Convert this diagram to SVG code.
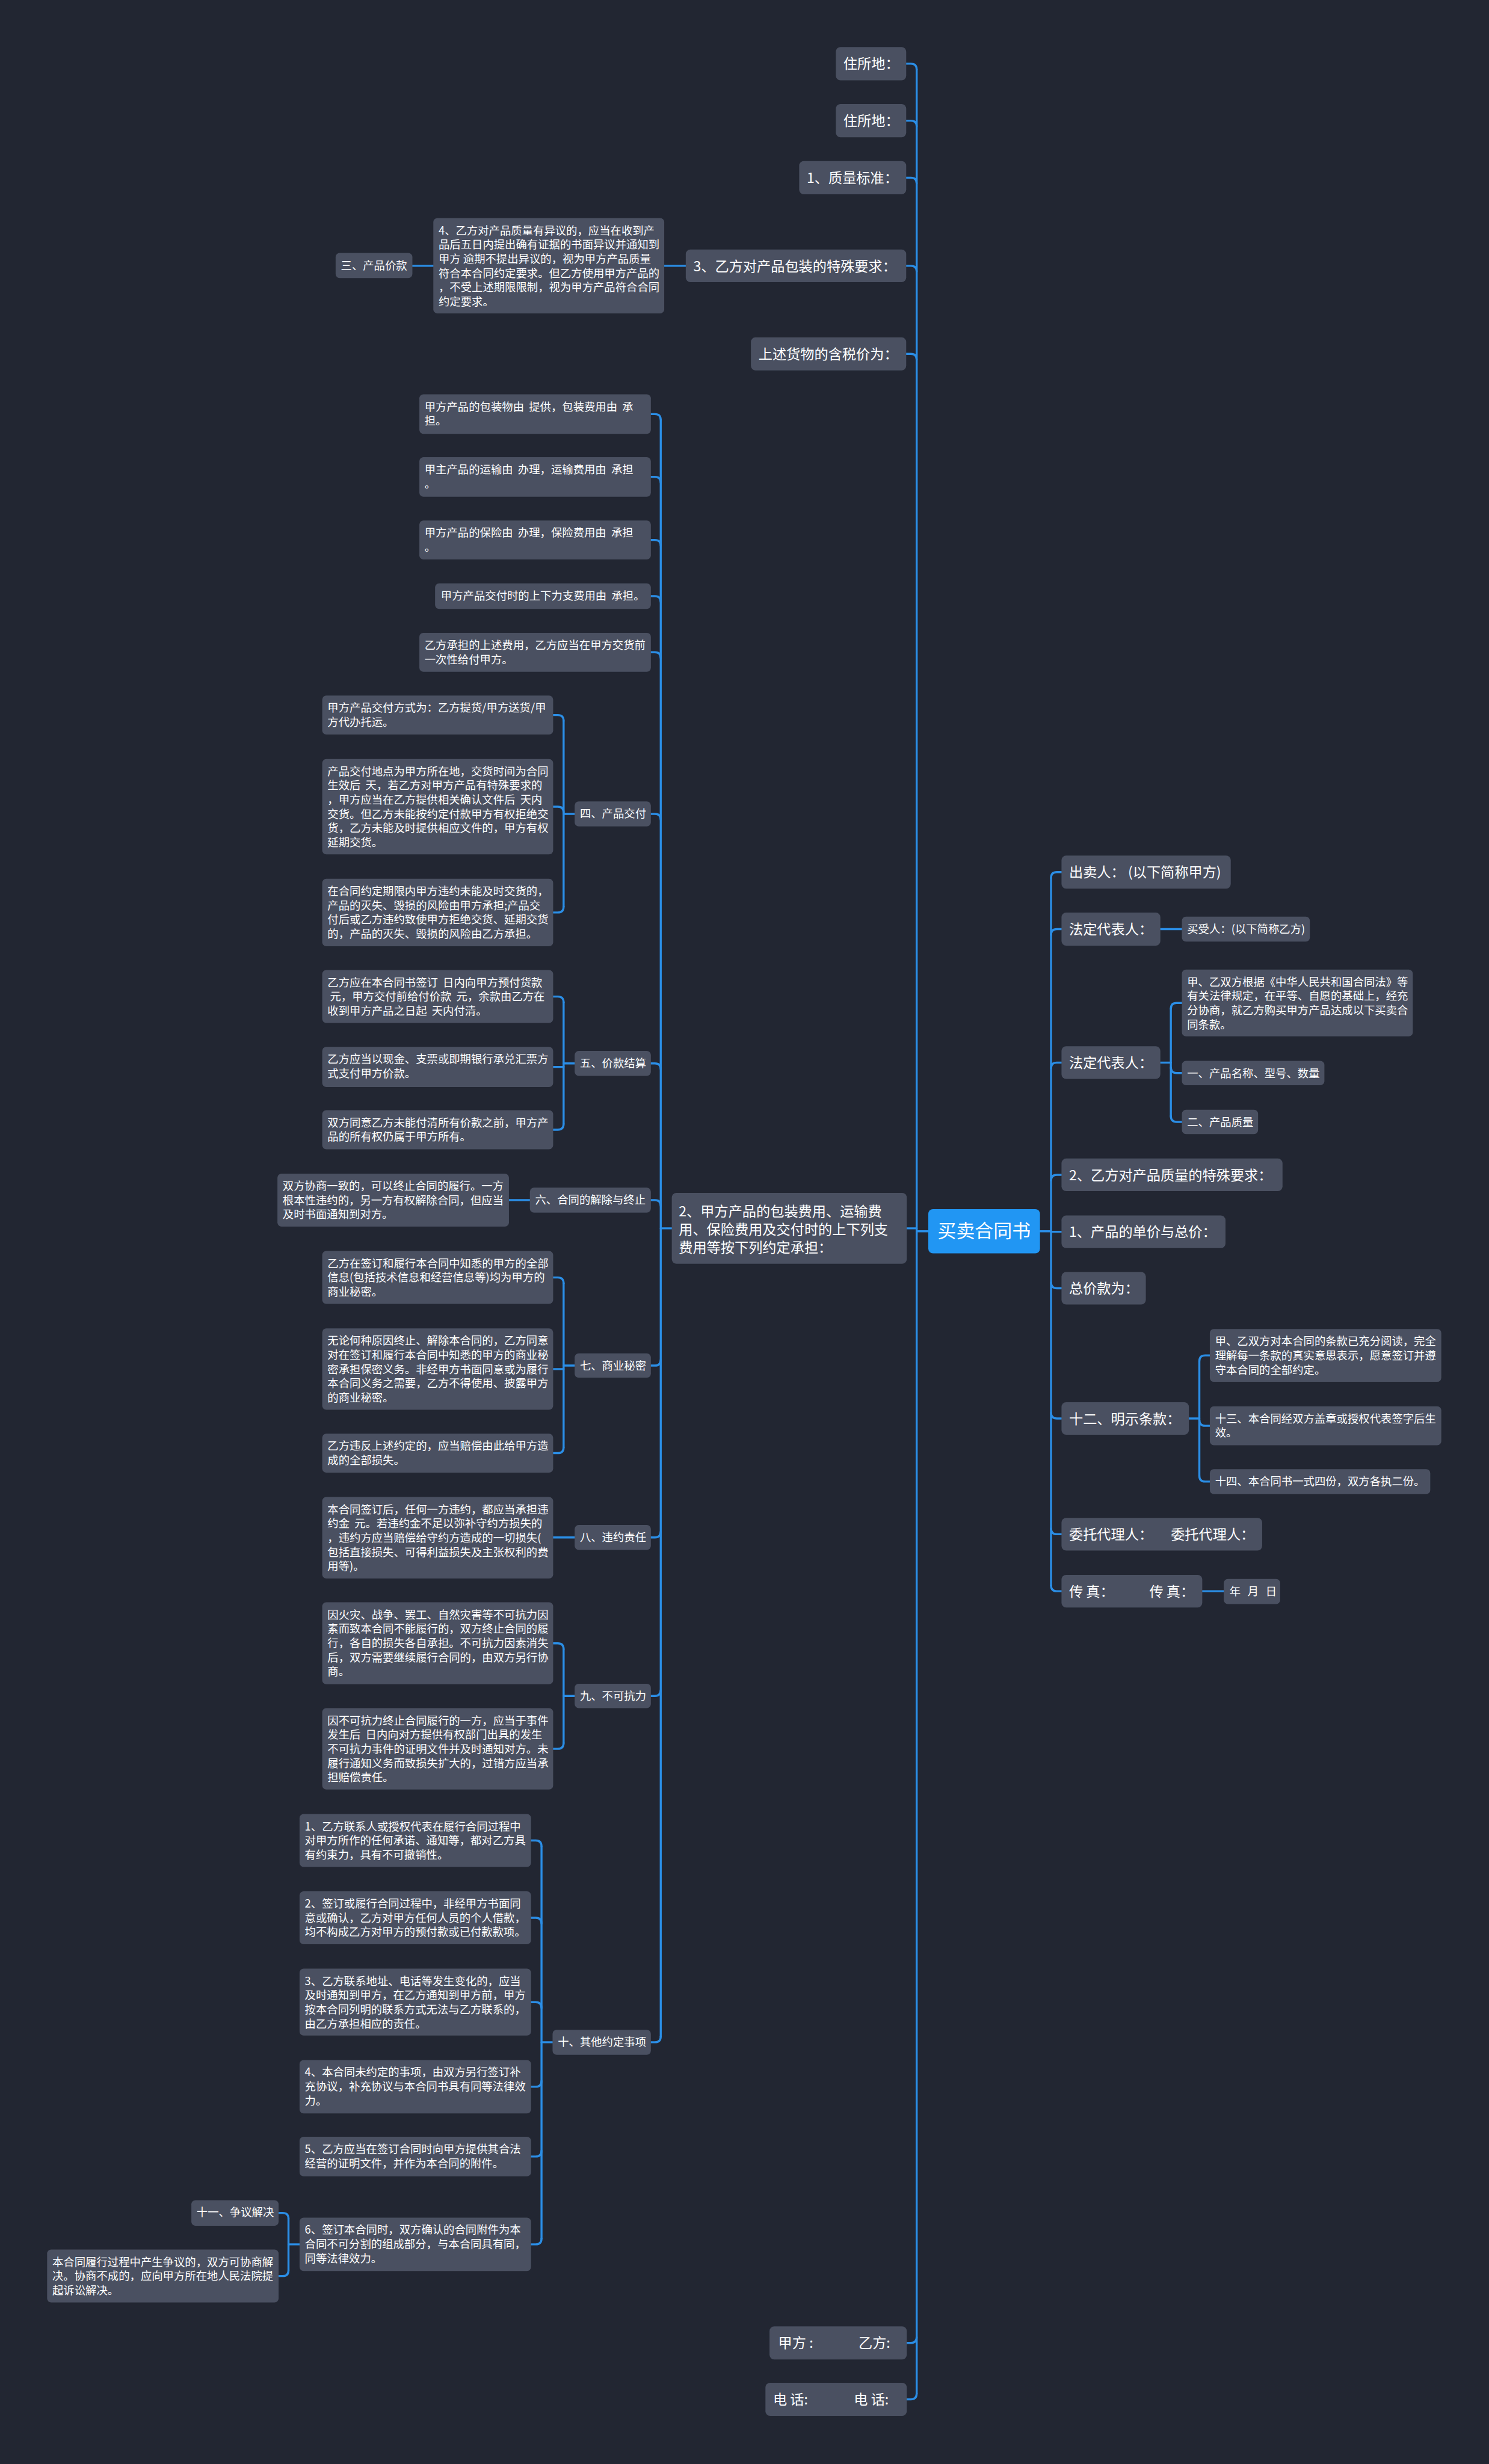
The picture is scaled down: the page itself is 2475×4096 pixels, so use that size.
<svg xmlns="http://www.w3.org/2000/svg" width="2475" height="4096" viewBox="0 0 2475 4096">
<defs>
<style>
.bg{fill:#222632}
.n{fill:#4a5061}
.ctr{fill:#2196f3}
text{fill:#ffffff;font-family:"Noto Sans CJK SC","Noto Sans",sans-serif}
.s{font-size:19px}
.m{font-size:24px}
.big{font-size:32px}
.c path{stroke:#2b8ee6;stroke-width:3.5;fill:none;stroke-linecap:round}
</style>
</defs>
<rect class="bg" x="0" y="0" width="2475" height="4096"/>
<g transform="scale(0.9668)">
<g class="c" id="connectors">
<path d="M1558,109.5 H1566 Q1576,109.5 1576,119.5"/>
<path d="M1558,207.5 H1566 Q1576,207.5 1576,217.5"/>
<path d="M1558,305.5 H1566 Q1576,305.5 1576,315.5"/>
<path d="M1558,457 H1566 Q1576,457 1576,467"/>
<path d="M1558,608.5 H1566 Q1576,608.5 1576,618.5"/>
<path d="M1559,2112 H1576"/>
<path d="M1559,4028.5 H1566 Q1576,4028.5 1576,4018.5"/>
<path d="M1559,4125.5 H1566 Q1576,4125.5 1576,4115.5"/>
<path d="M1576,119.5 V4115.5"/>
<path d="M1596,2117 H1576"/>
<path d="M1825,1499.5 H1817 Q1807,1499.5 1807,1509.5"/>
<path d="M1825,1597.5 H1817 Q1807,1597.5 1807,1607.5"/>
<path d="M1825,1827 H1817 Q1807,1827 1807,1837"/>
<path d="M1825,2020 H1817 Q1807,2020 1807,2030"/>
<path d="M1807,2118 H1825"/>
<path d="M1825,2215 H1817 Q1807,2215 1807,2205"/>
<path d="M1825,2439 H1817 Q1807,2439 1807,2429"/>
<path d="M1825,2638 H1817 Q1807,2638 1807,2628"/>
<path d="M1825,2736 H1817 Q1807,2736 1807,2726"/>
<path d="M1807,1509.5 V2726"/>
<path d="M1788,2117 H1807"/>
<path d="M1995,1597.5 H2032"/>
<path d="M1995,1827 H2013"/>
<path d="M2032,1724.5 H2023 Q2013,1724.5 2013,1734.5"/>
<path d="M2032,1845 H2023 Q2013,1845 2013,1835"/>
<path d="M2032,1929 H2023 Q2013,1929 2013,1919"/>
<path d="M2013,1734.5 V1919"/>
<path d="M2044,2439 H2062"/>
<path d="M2080,2330.5 H2072 Q2062,2330.5 2062,2340.5"/>
<path d="M2080,2451.5 H2072 Q2062,2451.5 2062,2441.5"/>
<path d="M2080,2547.5 H2072 Q2062,2547.5 2062,2537.5"/>
<path d="M2062,2340.5 V2537.5"/>
<path d="M2067,2736 H2104"/>
<path d="M1155,2112 H1136"/>
<path d="M1119,712 H1126 Q1136,712 1136,722"/>
<path d="M1119,820 H1126 Q1136,820 1136,830"/>
<path d="M1119,928.5 H1126 Q1136,928.5 1136,938.5"/>
<path d="M1119,1025 H1126 Q1136,1025 1136,1035"/>
<path d="M1119,1121.5 H1126 Q1136,1121.5 1136,1131.5"/>
<path d="M1119,1399.5 H1126 Q1136,1399.5 1136,1409.5"/>
<path d="M1119,1828.5 H1126 Q1136,1828.5 1136,1838.5"/>
<path d="M1119,2063.5 H1126 Q1136,2063.5 1136,2073.5"/>
<path d="M1119,2348 H1126 Q1136,2348 1136,2338"/>
<path d="M1119,2643.5 H1126 Q1136,2643.5 1136,2633.5"/>
<path d="M1119,2916 H1126 Q1136,2916 1136,2906"/>
<path d="M1119,3511.5 H1126 Q1136,3511.5 1136,3501.5"/>
<path d="M1136,722 V3501.5"/>
<path d="M988,1399.5 H969"/>
<path d="M951,1229.5 H959 Q969,1229.5 969,1239.5"/>
<path d="M951,1387 H959 Q969,1387 969,1397"/>
<path d="M951,1569 H959 Q969,1569 969,1559"/>
<path d="M969,1239.5 V1559"/>
<path d="M988,1828.5 H969"/>
<path d="M951,1713.5 H959 Q969,1713.5 969,1723.5"/>
<path d="M951,1834.5 H969"/>
<path d="M951,1942.5 H959 Q969,1942.5 969,1932.5"/>
<path d="M969,1723.5 V1932.5"/>
<path d="M911,2063.5 H875"/>
<path d="M988,2348 H969"/>
<path d="M951,2196.5 H959 Q969,2196.5 969,2206.5"/>
<path d="M951,2354 H969"/>
<path d="M951,2498.5 H959 Q969,2498.5 969,2488.5"/>
<path d="M969,2206.5 V2488.5"/>
<path d="M988,2643.5 H951"/>
<path d="M988,2916 H969"/>
<path d="M951,2825.5 H959 Q969,2825.5 969,2835.5"/>
<path d="M951,3007 H959 Q969,3007 969,2997"/>
<path d="M969,2835.5 V2997"/>
<path d="M950,3511.5 H931"/>
<path d="M913,3164.5 H921 Q931,3164.5 931,3174.5"/>
<path d="M913,3297.5 H921 Q931,3297.5 931,3307.5"/>
<path d="M913,3442.5 H921 Q931,3442.5 931,3452.5"/>
<path d="M913,3588 H921 Q931,3588 931,3578"/>
<path d="M913,3708 H921 Q931,3708 931,3698"/>
<path d="M913,3859 H921 Q931,3859 931,3849"/>
<path d="M931,3174.5 V3849"/>
<path d="M515,3859 H496"/>
<path d="M479,3805 H486 Q496,3805 496,3815"/>
<path d="M479,3913.5 H486 Q496,3913.5 496,3903.5"/>
<path d="M496,3815 V3903.5"/>
<path d="M1179,457 H1142"/>
<path d="M745,457 H709"/>
</g>

<g id="root"><rect class="ctr" x="1596" y="2079" width="192" height="76" rx="8"/><text class="big" x="1692" y="2128" text-anchor="middle">买卖合同书</text></g>

<g id="l1"><rect class="n" x="1437" y="81" width="121" height="57" rx="8"/><text class="m" x="1450" y="118">住所地：</text></g>
<g id="l2"><rect class="n" x="1437" y="179" width="121" height="57" rx="8"/><text class="m" x="1450" y="216">住所地：</text></g>
<g id="l3"><rect class="n" x="1374" y="277" width="184" height="57" rx="8"/><text class="m" x="1387" y="314">1、质量标准：</text></g>
<g id="l4"><rect class="n" x="1179" y="429" width="379" height="56" rx="8"/><text class="m" x="1192" y="466">3、乙方对产品包装的特殊要求：</text></g>
<g id="l5"><rect class="n" x="1291" y="580" width="267" height="57" rx="8"/><text class="m" x="1304" y="617">上述货物的含税价为：</text></g>
<g id="l6"><rect class="n" x="1155" y="2051" width="404" height="122" rx="8"/><text class="m"><tspan x="1167" y="2091">2、甲方产品的包装费用、运输费</tspan><tspan x="1167" y="2122">用、保险费用及交付时的上下列支</tspan><tspan x="1167" y="2154">费用等按下列约定承担：</tspan></text></g>
<g id="l7"><rect class="n" x="1323" y="4000" width="236" height="57" rx="8"/><text class="m" x="1338" y="4037">甲方 :</text><text class="m" x="1476" y="4037">乙方:</text></g>
<g id="l8"><rect class="n" x="1316" y="4097" width="243" height="57" rx="8"/><text class="m" x="1329" y="4134">电 话:</text><text class="m" x="1468" y="4134">电 话:</text></g>

<g id="q4"><rect class="n" x="745" y="375" width="397" height="164" rx="7"/><text class="s"><tspan x="754" y="403">4、乙方对产品质量有异议的，应当在收到产</tspan><tspan x="754" y="427.5">品后五日内提出确有证据的书面异议并通知到</tspan><tspan x="754" y="452">甲方&#160;逾期不提出异议的，视为甲方产品质量</tspan><tspan x="754" y="476.5">符合本合同约定要求。但乙方使用甲方产品的</tspan><tspan x="754" y="501">，不受上述期限限制，视为甲方产品符合合同</tspan><tspan x="754" y="525.5">约定要求。</tspan></text></g>
<g id="q3"><rect class="n" x="577" y="435" width="132" height="43" rx="7"/><text class="s" x="586" y="463">三、产品价款</text></g>

<g id="r1"><rect class="n" x="1825" y="1471" width="291" height="57" rx="8"/><text class="m" x="1838" y="1508">出卖人： (以下简称甲方)</text></g>
<g id="r2"><rect class="n" x="1825" y="1569" width="170" height="57" rx="8"/><text class="m" x="1838" y="1606">法定代表人：</text></g>
<g id="r2a"><rect class="n" x="2032" y="1576" width="220" height="43" rx="7"/><text class="s" x="2041" y="1604">买受人：(以下简称乙方)</text></g>
<g id="r3"><rect class="n" x="1825" y="1799" width="170" height="56" rx="8"/><text class="m" x="1838" y="1836">法定代表人：</text></g>
<g id="r3a"><rect class="n" x="2032" y="1667" width="397" height="115" rx="7"/><text class="s"><tspan x="2041" y="1695">甲、乙双方根据《中华人民共和国合同法》等</tspan><tspan x="2041" y="1719.5">有关法律规定，在平等、自愿的基础上，经充</tspan><tspan x="2041" y="1744">分协商，就乙方购买甲方产品达成以下买卖合</tspan><tspan x="2041" y="1768.5">同条款。</tspan></text></g>
<g id="r3b"><rect class="n" x="2032" y="1824" width="245" height="42" rx="7"/><text class="s" x="2041" y="1852">一、产品名称、型号、数量</text></g>
<g id="r3c"><rect class="n" x="2032" y="1908" width="131" height="42" rx="7"/><text class="s" x="2041" y="1936">二、产品质量</text></g>
<g id="r4"><rect class="n" x="1825" y="1992" width="380" height="56" rx="8"/><text class="m" x="1838" y="2029">2、乙方对产品质量的特殊要求：</text></g>
<g id="r5"><rect class="n" x="1825" y="2090" width="282" height="56" rx="8"/><text class="m" x="1838" y="2127">1、产品的单价与总价：</text></g>
<g id="r6"><rect class="n" x="1825" y="2187" width="145" height="56" rx="8"/><text class="m" x="1838" y="2224">总价款为：</text></g>
<g id="r7"><rect class="n" x="1825" y="2411" width="219" height="56" rx="8"/><text class="m" x="1838" y="2448">十二、明示条款：</text></g>
<g id="r7a"><rect class="n" x="2080" y="2285" width="398" height="91" rx="7"/><text class="s"><tspan x="2089" y="2313">甲、乙双方对本合同的条款已充分阅读，完全</tspan><tspan x="2089" y="2337.5">理解每一条款的真实意思表示，愿意签订并遵</tspan><tspan x="2089" y="2362">守本合同的全部约定。</tspan></text></g>
<g id="r7b"><rect class="n" x="2080" y="2418" width="398" height="67" rx="7"/><text class="s"><tspan x="2089" y="2446">十三、本合同经双方盖章或授权代表签字后生</tspan><tspan x="2089" y="2470.5">效。</tspan></text></g>
<g id="r7c"><rect class="n" x="2080" y="2526" width="379" height="43" rx="7"/><text class="s" x="2089" y="2554">十四、本合同书一式四份，双方各执二份。</text></g>
<g id="r8"><rect class="n" x="1825" y="2610" width="345" height="56" rx="8"/><text class="m" x="1838" y="2647">委托代理人：</text><text class="m" x="2013" y="2647">委托代理人：</text></g>
<g id="r9"><rect class="n" x="1825" y="2708" width="242" height="56" rx="8"/><text class="m" x="1838" y="2745">传 真：</text><text class="m" x="1976" y="2745">传 真：</text></g>
<g id="r9a"><rect class="n" x="2104" y="2715" width="97" height="43" rx="7"/><text class="s" x="2114 2145 2176" y="2743">年月日</text></g>

<g id="c1"><rect class="n" x="721" y="678" width="398" height="68" rx="7"/><text class="s"><tspan x="730" y="706">甲方产品的包装物由&#160;&#160;提供，包装费用由&#160;&#160;承</tspan><tspan x="730" y="730.5">担。</tspan></text></g>
<g id="c2"><rect class="n" x="721" y="786" width="398" height="68" rx="7"/><text class="s"><tspan x="730" y="814">甲主产品的运输由&#160;&#160;办理，运输费用由&#160;&#160;承担</tspan><tspan x="730" y="838.5">。</tspan></text></g>
<g id="c3"><rect class="n" x="721" y="895" width="398" height="67" rx="7"/><text class="s"><tspan x="730" y="923">甲方产品的保险由&#160;&#160;办理，保险费用由&#160;&#160;承担</tspan><tspan x="730" y="947.5">。</tspan></text></g>
<g id="c4"><rect class="n" x="748" y="1003" width="371" height="44" rx="7"/><text class="s" x="758" y="1031.5">甲方产品交付时的上下力支费用由&#160;&#160;承担。</text></g>
<g id="c5"><rect class="n" x="721" y="1088" width="398" height="67" rx="7"/><text class="s"><tspan x="730" y="1116">乙方承担的上述费用，乙方应当在甲方交货前</tspan><tspan x="730" y="1140.5">一次性给付甲方。</tspan></text></g>

<g id="s4"><rect class="n" x="988" y="1378" width="131" height="43" rx="7"/><text class="s" x="997" y="1406">四、产品交付</text></g>
<g id="d1"><rect class="n" x="554" y="1196" width="397" height="67" rx="7"/><text class="s"><tspan x="563" y="1224">甲方产品交付方式为：乙方提货/甲方送货/甲</tspan><tspan x="563" y="1248.5">方代办托运。</tspan></text></g>
<g id="d2"><rect class="n" x="554" y="1305" width="397" height="164" rx="7"/><text class="s"><tspan x="563" y="1333">产品交付地点为甲方所在地，交货时间为合同</tspan><tspan x="563" y="1357.5">生效后&#160;&#160;天，若乙方对甲方产品有特殊要求的</tspan><tspan x="563" y="1382">，甲方应当在乙方提供相关确认文件后&#160;&#160;天内</tspan><tspan x="563" y="1406.5">交货。但乙方未能按约定付款甲方有权拒绝交</tspan><tspan x="563" y="1431">货，乙方未能及时提供相应文件的，甲方有权</tspan><tspan x="563" y="1455.5">延期交货。</tspan></text></g>
<g id="d3"><rect class="n" x="554" y="1511" width="397" height="116" rx="7"/><text class="s"><tspan x="563" y="1539">在合同约定期限内甲方违约未能及时交货的，</tspan><tspan x="563" y="1563.5">产品的灭失、毁损的风险由甲方承担;产品交</tspan><tspan x="563" y="1588">付后或乙方违约致使甲方拒绝交货、延期交货</tspan><tspan x="563" y="1612.5">的，产品的灭失、毁损的风险由乙方承担。</tspan></text></g>

<g id="s5"><rect class="n" x="988" y="1807" width="131" height="43" rx="7"/><text class="s" x="997" y="1835">五、价款结算</text></g>
<g id="e1"><rect class="n" x="554" y="1668" width="397" height="91" rx="7"/><text class="s"><tspan x="563" y="1696">乙方应在本合同书签订&#160;&#160;日内向甲方预付货款</tspan><tspan x="563" y="1720.5">&#160;元，甲方交付前给付价款&#160;&#160;元，余款由乙方在</tspan><tspan x="563" y="1745">收到甲方产品之日起&#160;&#160;天内付清。</tspan></text></g>
<g id="e2"><rect class="n" x="554" y="1800" width="397" height="69" rx="7"/><text class="s"><tspan x="563" y="1828">乙方应当以现金、支票或即期银行承兑汇票方</tspan><tspan x="563" y="1852.5">式支付甲方价款。</tspan></text></g>
<g id="e3"><rect class="n" x="554" y="1909" width="397" height="67" rx="7"/><text class="s"><tspan x="563" y="1937">双方同意乙方未能付清所有价款之前，甲方产</tspan><tspan x="563" y="1961.5">品的所有权仍属于甲方所有。</tspan></text></g>

<g id="s6"><rect class="n" x="911" y="2042" width="208" height="43" rx="7"/><text class="s" x="920" y="2070">六、合同的解除与终止</text></g>
<g id="f1"><rect class="n" x="477" y="2018" width="398" height="91" rx="7"/><text class="s"><tspan x="486" y="2046">双方协商一致的，可以终止合同的履行。一方</tspan><tspan x="486" y="2070.5">根本性违约的，另一方有权解除合同，但应当</tspan><tspan x="486" y="2095">及时书面通知到对方。</tspan></text></g>

<g id="s7"><rect class="n" x="988" y="2327" width="131" height="42" rx="7"/><text class="s" x="997" y="2355">七、商业秘密</text></g>
<g id="g1"><rect class="n" x="554" y="2151" width="397" height="91" rx="7"/><text class="s"><tspan x="563" y="2179">乙方在签订和履行本合同中知悉的甲方的全部</tspan><tspan x="563" y="2203.5">信息(包括技术信息和经营信息等)均为甲方的</tspan><tspan x="563" y="2228">商业秘密。</tspan></text></g>
<g id="g2"><rect class="n" x="554" y="2284" width="397" height="140" rx="7"/><text class="s"><tspan x="563" y="2312">无论何种原因终止、解除本合同的，乙方同意</tspan><tspan x="563" y="2336.5">对在签订和履行本合同中知悉的甲方的商业秘</tspan><tspan x="563" y="2361">密承担保密义务。非经甲方书面同意或为履行</tspan><tspan x="563" y="2385.5">本合同义务之需要，乙方不得使用、披露甲方</tspan><tspan x="563" y="2410">的商业秘密。</tspan></text></g>
<g id="g3"><rect class="n" x="554" y="2465" width="397" height="67" rx="7"/><text class="s"><tspan x="563" y="2493">乙方违反上述约定的，应当赔偿由此给甲方造</tspan><tspan x="563" y="2517.5">成的全部损失。</tspan></text></g>

<g id="s8"><rect class="n" x="988" y="2622" width="131" height="43" rx="7"/><text class="s" x="997" y="2650">八、违约责任</text></g>
<g id="h1"><rect class="n" x="554" y="2574" width="397" height="140" rx="7"/><text class="s"><tspan x="563" y="2602">本合同签订后，任何一方违约，都应当承担违</tspan><tspan x="563" y="2626.5">约金&#160;&#160;元。若违约金不足以弥补守约方损失的</tspan><tspan x="563" y="2651">，违约方应当赔偿给守约方造成的一切损失(</tspan><tspan x="563" y="2675.5">包括直接损失、可得利益损失及主张权利的费</tspan><tspan x="563" y="2700">用等)。</tspan></text></g>

<g id="s9"><rect class="n" x="988" y="2895" width="131" height="42" rx="7"/><text class="s" x="997" y="2923">九、不可抗力</text></g>
<g id="i1"><rect class="n" x="554" y="2755" width="397" height="141" rx="7"/><text class="s"><tspan x="563" y="2783">因火灾、战争、罢工、自然灾害等不可抗力因</tspan><tspan x="563" y="2807.5">素而致本合同不能履行的，双方终止合同的履</tspan><tspan x="563" y="2832">行，各自的损失各自承担。不可抗力因素消失</tspan><tspan x="563" y="2856.5">后，双方需要继续履行合同的，由双方另行协</tspan><tspan x="563" y="2881">商。</tspan></text></g>
<g id="i2"><rect class="n" x="554" y="2937" width="397" height="140" rx="7"/><text class="s"><tspan x="563" y="2965">因不可抗力终止合同履行的一方，应当于事件</tspan><tspan x="563" y="2989.5">发生后&#160;&#160;日内向对方提供有权部门出具的发生</tspan><tspan x="563" y="3014">不可抗力事件的证明文件并及时通知对方。未</tspan><tspan x="563" y="3038.5">履行通知义务而致损失扩大的，过错方应当承</tspan><tspan x="563" y="3063">担赔偿责任。</tspan></text></g>

<g id="s10"><rect class="n" x="950" y="3490" width="169" height="43" rx="7"/><text class="s" x="959" y="3518">十、其他约定事项</text></g>
<g id="j1"><rect class="n" x="515" y="3119" width="398" height="91" rx="7"/><text class="s"><tspan x="524" y="3147">1、乙方联系人或授权代表在履行合同过程中</tspan><tspan x="524" y="3171.5">对甲方所作的任何承诺、通知等，都对乙方具</tspan><tspan x="524" y="3196">有约束力，具有不可撤销性。</tspan></text></g>
<g id="j2"><rect class="n" x="515" y="3252" width="398" height="91" rx="7"/><text class="s"><tspan x="524" y="3280">2、签订或履行合同过程中，非经甲方书面同</tspan><tspan x="524" y="3304.5">意或确认，乙方对甲方任何人员的个人借款，</tspan><tspan x="524" y="3329">均不构成乙方对甲方的预付款或已付款款项。</tspan></text></g>
<g id="j3"><rect class="n" x="515" y="3385" width="398" height="115" rx="7"/><text class="s"><tspan x="524" y="3413">3、乙方联系地址、电话等发生变化的，应当</tspan><tspan x="524" y="3437.5">及时通知到甲方，在乙方通知到甲方前，甲方</tspan><tspan x="524" y="3462">按本合同列明的联系方式无法与乙方联系的，</tspan><tspan x="524" y="3486.5">由乙方承担相应的责任。</tspan></text></g>
<g id="j4"><rect class="n" x="515" y="3542" width="398" height="92" rx="7"/><text class="s"><tspan x="524" y="3570">4、本合同未约定的事项，由双方另行签订补</tspan><tspan x="524" y="3594.5">充协议，补充协议与本合同书具有同等法律效</tspan><tspan x="524" y="3619">力。</tspan></text></g>
<g id="j5"><rect class="n" x="515" y="3674" width="398" height="68" rx="7"/><text class="s"><tspan x="524" y="3702">5、乙方应当在签订合同时向甲方提供其合法</tspan><tspan x="524" y="3726.5">经营的证明文件，并作为本合同的附件。</tspan></text></g>
<g id="j6"><rect class="n" x="515" y="3813" width="398" height="92" rx="7"/><text class="s"><tspan x="524" y="3841">6、签订本合同时，双方确认的合同附件为本</tspan><tspan x="524" y="3865.5">合同不可分割的组成部分，与本合同具有同，</tspan><tspan x="524" y="3890">同等法律效力。</tspan></text></g>
<g id="s11"><rect class="n" x="329" y="3783" width="150" height="44" rx="7"/><text class="s" x="338" y="3811">十一、争议解决</text></g>
<g id="k2"><rect class="n" x="81" y="3868" width="398" height="91" rx="7"/><text class="s"><tspan x="90" y="3896">本合同履行过程中产生争议的，双方可协商解</tspan><tspan x="90" y="3920.5">决。协商不成的，应向甲方所在地人民法院提</tspan><tspan x="90" y="3945">起诉讼解决。</tspan></text></g>
</g>
</svg>
